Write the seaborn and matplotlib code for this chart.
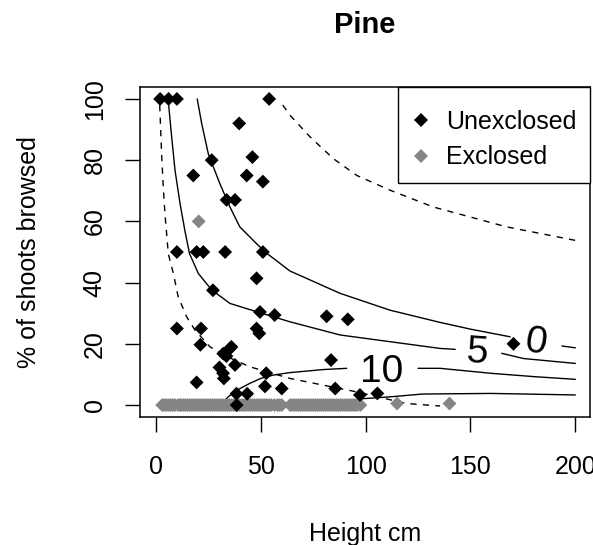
import numpy as np
import pandas as pd
import matplotlib
matplotlib.use("Agg")
import matplotlib.pyplot as plt
from matplotlib.lines import Line2D
from matplotlib.patches import Rectangle
import seaborn as sns

# Unexclosed pines: height (cm) and % of shoots browsed
unexcl_height = [2, 6, 10, 54, 39.7, 26.6, 46, 17.8, 43.3, 51, 33.7, 37.7,
                 10, 19.4, 22.6, 33, 51, 48, 27.2, 49.6, 56.6, 81.4, 91.5,
                 10, 21.5, 48, 49.3, 21.2, 36, 170.5, 35.3, 32.1, 33.6, 37.7,
                 30.3, 32, 32.4, 19.4, 83.5, 52.6, 52, 60, 85.5, 38.4, 43.5,
                 38.5, 97.3, 105.6]
unexcl_browsed = [100, 100, 100, 100, 92, 80, 81, 75, 75, 73, 67, 67,
                  50, 50, 50, 50, 50, 41.4, 37.5, 30.4, 29.4, 29, 28,
                  25, 25, 25, 23.4, 19.7, 19, 20, 18.5, 16.8, 16, 13.1,
                  12.3, 10.4, 8.7, 7.4, 14.7, 10.4, 6.1, 5.4, 5.4, 3.7, 3.7,
                  0, 3.3, 3.8]

# Exclosed pines: almost all unbrowsed, packed along the 0 % line
excl_height = [20.4,
               3, 4, 5, 6, 7, 8, 9, 10.5, 11.5, 12, 13, 14, 15, 16, 17, 18,
               19, 20, 21, 22, 23, 24, 25, 26, 27, 28, 29, 30, 31, 32, 33, 34,
               35, 36, 37, 38, 39, 40, 41, 42, 43, 44, 45, 46, 47, 48, 49, 50,
               51, 52, 53, 54, 55, 56.5, 58, 59, 60,
               64, 65, 66, 67, 68, 69, 70, 71, 72, 73, 74, 75, 76, 77, 78, 79,
               80, 81, 82, 83, 84, 85, 86, 87, 88, 89, 90, 91, 92, 93, 94, 95,
               96, 97.5,
               115, 140]
excl_browsed = [60] + [0] * (len(excl_height) - 3) + [0.5, 0.5]

# Fitted contour lines (NaN = break where the level label sits)
lvl0_x = [19.7, 21.8, 25, 30.5, 35.3, 40, 48, 52.8, 63.9, 87.8, 111.6, 135.5,
          150, 168.9, np.nan, 193.6, 200]
lvl0_y = [100, 92, 82, 72.3, 64.7, 58.2, 52.7, 49.6, 43.8, 36.5, 31, 27,
          24.8, 22.3, np.nan, 19.3, 18.7]
lvl5_x = [5.8, 7.5, 9.1, 11.5, 13.8, 16, 20.2, 26.6, 35.3, 48, 63.9, 87.8,
          111.6, 135.5, 142.7, np.nan, 164.9, 175.3, 200]
lvl5_y = [100, 87.6, 76.7, 65.8, 57, 49.5, 43, 37.6, 33.2, 30.5, 27.2, 22.9,
          20.7, 18.5, 18.2, np.nan, 16.9, 15.2, 13.6]
lvl10_x = [33, 34.5, 39, 44.8, 50, 56, 63.9, 79.8, 91, np.nan, 125, 135.5,
           159.4, 180, 200]
lvl10_y = [1.5, 2.7, 5, 7.1, 8.7, 9.8, 10.6, 11.6, 12, np.nan, 12, 12,
           10.4, 9.3, 8.4]
low_x = [97, 112, 127, 160, 200]
low_y = [2.0, 2.7, 3.6, 3.8, 3.3]

# Dashed bounds
bound_lo_x = [1.8, 2.7, 3.5, 4.3, 5.9, 8.3, 10.6, 14.6, 18.6, 25.8, 35, 44.8,
              63.9, 79.8, 95.8, 110, 119.6, 135.5]
bound_lo_y = [98, 82, 71.2, 62.5, 49.4, 43, 35.4, 28.9, 24.5, 19, 15.5, 12.5,
              8.7, 6.5, 4.3, 2, 0.5, -0.3]
bound_hi_x = [60.5, 63.9, 73.5, 84.6, 95.8, 111.6, 132.3, 167.3, 200]
bound_hi_y = [98, 94.7, 87.6, 80.5, 75, 70.2, 64.7, 58.2, 53.8]

level_labels = ["0", "5", "10"]
label_x = [181.1, 153, 107.5]
label_y = [20.3, 17, 10.9]
label_rot = [-9, -4, 0]

x_ticks = [0, 50, 100, 150, 200]
y_ticks = [0, 20, 40, 60, 80, 100]


def segments(name, xs, ys):
    """Split a NaN-separated polyline into numbered pieces."""
    rows, piece = [], 0
    for x, y in zip(xs, ys):
        if np.isnan(x):
            piece += 1
            continue
        rows.append((f"{name}_{piece}", x, y))
    return rows


sns.set_style("ticks")
plt.rcParams["font.family"] = ["Liberation Sans", "DejaVu Sans"]
plt.rcParams["text.color"] = "black"

fig = plt.figure(figsize=(5.93, 5.45), dpi=100)
ax = fig.add_axes([140 / 593, 1 - 417 / 545, 450 / 593, 330 / 545])

solid = pd.DataFrame(
    segments("l0", lvl0_x, lvl0_y) + segments("l5", lvl5_x, lvl5_y)
    + segments("l10", lvl10_x, lvl10_y) + segments("low", low_x, low_y),
    columns=["seg", "height", "browsed"])
dashed = pd.DataFrame(
    segments("lo", bound_lo_x, bound_lo_y) + segments("hi", bound_hi_x, bound_hi_y),
    columns=["seg", "height", "browsed"])

sns.lineplot(data=solid, x="height", y="browsed", units="seg", estimator=None,
             sort=False, color="black", lw=1.0, ax=ax, zorder=2)
sns.lineplot(data=dashed, x="height", y="browsed", units="seg", estimator=None,
             sort=False, color="black", lw=1.0, ax=ax, zorder=2)
for ln in ax.get_lines()[-2:]:
    ln.set_dashes((4.5, 4.5))

for t, x, y, r in zip(level_labels, label_x, label_y, label_rot):
    ax.text(x, y, t, fontsize=28, ha="center", va="center", rotation=r,
            color="black", zorder=3)

grey = "#858585"
pts = pd.DataFrame({
    "height": excl_height + unexcl_height,
    "browsed": excl_browsed + unexcl_browsed,
    "group": ["Exclosed"] * len(excl_height) + ["Unexclosed"] * len(unexcl_height),
})
sns.scatterplot(data=pts, x="height", y="browsed", hue="group",
                palette={"Unexclosed": "black", "Exclosed": grey},
                marker="D", s=50, linewidth=0, legend=False, ax=ax, zorder=4)

ax.set_xlim(-7.6, 207)
ax.set_ylim(-3.9, 103.9)
ax.set_xticks(x_ticks)
ax.set_yticks(y_ticks)
ax.set_xticklabels([str(v) for v in x_ticks], fontsize=18)
ax.set_yticklabels([str(v) for v in y_ticks], fontsize=18, rotation=90,
                   va="center")
ax.tick_params(axis="both", direction="out", length=11, width=1.0,
               color="black", labelcolor="black")
ax.tick_params(axis="x", pad=16)
ax.tick_params(axis="y", pad=13)
for sp in ax.spines.values():
    sp.set_visible(True)
    sp.set_color("black")
    sp.set_linewidth(1.1)

ax.set_xlabel("Height cm", fontsize=18, color="black")
ax.set_ylabel("% of shoots browsed", fontsize=18, color="black")
ax.xaxis.set_label_coords(0.5, -0.318)
ax.yaxis.set_label_coords(-0.22, 0.5)
ax.set_title("Pine", fontsize=21, fontweight="bold", pad=39, color="black")

# Legend box in the top-right corner of the panel
box_x0, box_y0 = 0.5727, 0.71
ax.add_patch(Rectangle((box_x0, box_y0), 1 - box_x0, 1 - box_y0,
                       transform=ax.transAxes, facecolor="white",
                       edgecolor="black", lw=1.0, zorder=5, clip_on=False))
handles = [
    Line2D([], [], marker="D", ls="", color="black", markersize=7,
           markeredgewidth=0),
    Line2D([], [], marker="D", ls="", color=grey, markersize=7,
           markeredgewidth=0),
]
leg = ax.legend(handles, ["Unexclosed", "Exclosed"], loc="upper left",
                bbox_to_anchor=(box_x0, 1.0), fontsize=18, frameon=False,
                borderaxespad=0, borderpad=0.92, labelspacing=0.46,
                handlelength=0.05, handletextpad=0.96)
leg.set_zorder(6)

fig.savefig("out.png", dpi=100)
